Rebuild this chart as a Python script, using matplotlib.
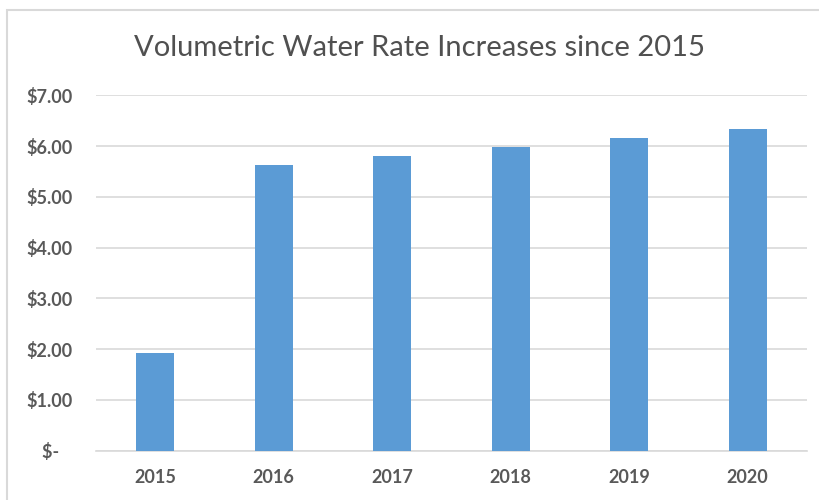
import matplotlib
matplotlib.use("Agg")
import matplotlib.pyplot as plt
from matplotlib.patches import Rectangle
from matplotlib.ticker import FuncFormatter

years = ["2015", "2016", "2017", "2018", "2019", "2020"]
rates = [1.93, 5.63, 5.80, 5.99, 6.16, 6.34]
y_ticks = [0, 1, 2, 3, 4, 5, 6, 7]

plt.rcParams['font.family'] = ['Lato', 'DejaVu Sans']

fig = plt.figure(figsize=(8.2, 5.0), dpi=100)
ax = fig.add_axes([96/820, 1 - 450.7/500, (807 - 96)/820, (450.7 - 95.3)/500])

# outer chart frame (cut off at right and bottom like the screenshot)
fig.patches.append(Rectangle((7/820, -0.2), 1.2, 1 - 10/500 + 0.2, transform=fig.transFigure,
                             fill=False, edgecolor="#d9d9d9", linewidth=1.5))

x = range(len(years))
ax.bar(x, rates, width=0.32, color="#5b9bd5", zorder=3)

ax.set_xlim(-0.5, len(years) - 0.5)
ax.set_ylim(0, 7)
ax.set_yticks(y_ticks)
ax.yaxis.set_major_formatter(FuncFormatter(lambda v, p: "$-   " if v == 0 else f"${v:.2f}"))
ax.set_xticks(list(x))
ax.set_xticklabels(years)

ax.grid(axis="y", color="#d9d9d9", linewidth=1.2, zorder=0)
for s in ["top", "right", "left"]:
    ax.spines[s].set_visible(False)
ax.spines["bottom"].set_color("#d9d9d9")
ax.spines["bottom"].set_linewidth(1.2)
ax.tick_params(axis="both", length=0, labelcolor="#595959", labelsize=13)
ax.tick_params(axis="y", pad=17)
ax.tick_params(axis="x", pad=13)
for lab in ax.get_xticklabels() + ax.get_yticklabels():
    lab.set_fontweight("bold")

fig.text(420/820, 1 - 48/500, "Volumetric Water Rate Increases since 2015",
         ha="center", va="center", fontsize=21, color="#505050")

fig.savefig("out.png", dpi=100)
